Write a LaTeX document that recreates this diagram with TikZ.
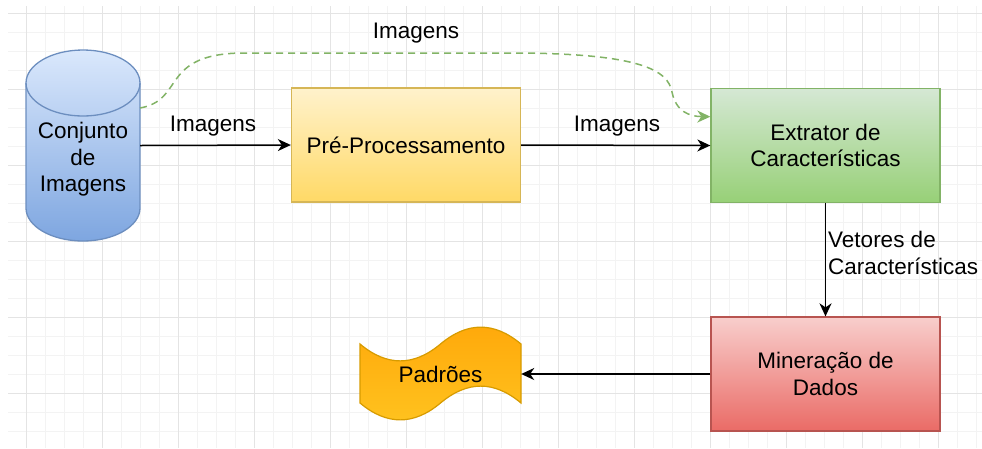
\documentclass[tikz,border=0pt]{standalone}
\usepackage{fontspec}
\setmainfont{Liberation Sans}
\usetikzlibrary{arrows.meta,calc}
\definecolor{gridmin}{HTML}{F3F3F3}
\definecolor{gridmaj}{HTML}{E4E4E4}
\definecolor{cyltop}{HTML}{DAE8FC}
\definecolor{cylbot}{HTML}{7EA6E0}
\definecolor{cylborder}{HTML}{6C8EBF}
\definecolor{pretop}{HTML}{FFF2CC}
\definecolor{prebot}{HTML}{FFD966}
\definecolor{preborder}{HTML}{D6B656}
\definecolor{exttop}{HTML}{D5E8D4}
\definecolor{extbot}{HTML}{97D077}
\definecolor{extborder}{HTML}{82B366}
\definecolor{mintop}{HTML}{F8CECC}
\definecolor{minbot}{HTML}{EA6B66}
\definecolor{minborder}{HTML}{B85450}
\definecolor{tapetop}{HTML}{FFA80A}
\definecolor{tapebot}{HTML}{FFC31F}
\definecolor{tapeborder}{HTML}{D79B00}
\definecolor{dashgreen}{HTML}{82B366}
\begin{document}
\begin{tikzpicture}[x=1pt,y=-1pt,
  txt/.style={font=\fontsize{22.5}{26.5}\selectfont, text=black, align=center, inner sep=0pt},
  box/.style={txt, rectangle, minimum width=229pt, minimum height=114pt, line width=1.3pt},
  conn/.style={line width=1.5pt, -{Stealth[length=13pt,width=12pt,inset=4pt]}},
  gridminor/.style={draw=gridmin, line width=1pt},
  gridmajor/.style={draw=gridmaj, line width=1pt},
]
\useasboundingbox (0,0) rectangle (982,448);
% grid
\begin{scope}
  \clip (8,6) rectangle (982,448);
  \foreach \x in {7,26,...,982} \draw[gridminor] (\x,6) -- (\x,448);
  \foreach \y in {13,32,...,448} \draw[gridminor] (8,\y) -- (982,\y);
  \foreach \x in {26,102,...,982} \draw[gridmajor] (\x,6) -- (\x,448);
  \foreach \y in {13,89,...,448} \draw[gridmajor] (8,\y) -- (982,\y);
\end{scope}
% cylinder
\path[draw=cylborder, line width=1.3pt, top color=cyltop, bottom color=cylbot]
  (26,83) -- (26,208)
  arc[start angle=180, end angle=360, x radius=57pt, y radius=33pt]
  -- (140,83)
  arc[start angle=0, end angle=180, x radius=57pt, y radius=33pt] -- cycle;
\draw[cylborder, line width=1.3pt] (26,83)
  arc[start angle=180, end angle=360, x radius=57pt, y radius=33pt];
\node[minimum width=114pt, minimum height=191pt, inner sep=0pt] (cyl) at (83,145.5) {};
\node[txt] (cyltext) at (83,159.5) {Conjunto\\de\\Imagens};
% tape
\path[draw=tapeborder, line width=1.2pt, top color=tapetop, bottom color=tapebot]
  (360,344) .. controls (386.8,366.5) and (413.7,366.5) .. (440.5,344)
  .. controls (467.3,321.5) and (494.2,321.5) .. (521,344)
  -- (521,403)
  .. controls (494.2,380.5) and (467.3,380.5) .. (440.5,403)
  .. controls (413.7,425.5) and (386.8,425.5) .. (360,403) -- cycle;
\node[txt, minimum width=161pt, minimum height=94pt] (pad) at (440.5,374) {Padrões};
% boxes
\node[box, draw=preborder, top color=pretop, bottom color=prebot] (pre) at (406,145) {Pré-Processamento};
\node[box, draw=extborder, top color=exttop, bottom color=extbot] (ext) at (825.5,145.5) {Extrator de\\Características};
\node[box, draw=minborder, top color=mintop, bottom color=minbot] (min) at (825.5,374) {Mineração de\\Dados};
% connectors
\coordinate (dstart) at (140,108);
\coordinate (dend) at ($(ext.north west)!0.25!(ext.south west)$);
\draw[conn] (cyl.east) -- (pre.west);
\draw[conn] (pre.east) -- (ext.west);
\draw[conn] (ext.south) -- (min.north);
\draw[conn] (min.west) -- (pad.east);
\draw[dashgreen, line width=1.5pt, dash pattern=on 7pt off 5pt,
      -{Stealth[length=13pt,width=12pt,inset=4pt]}]
  (dstart) .. controls (185,100) and (160,55) .. (240,53) -- (520,53)
  .. controls (640,54) and (668,70) .. (672,92)
  .. controls (676,112) and (690,116.5) .. (dend);
% labels
\node[txt] (l1) at (213,126) {Imagens};
\node[txt] (l2) at (617,126) {Imagens};
\node[txt] (l3) at (416,33) {Imagens};
\node[txt, align=left, anchor=west] (l4) at (828,253) {Vetores de\\Características};
\end{tikzpicture}
\end{document}
